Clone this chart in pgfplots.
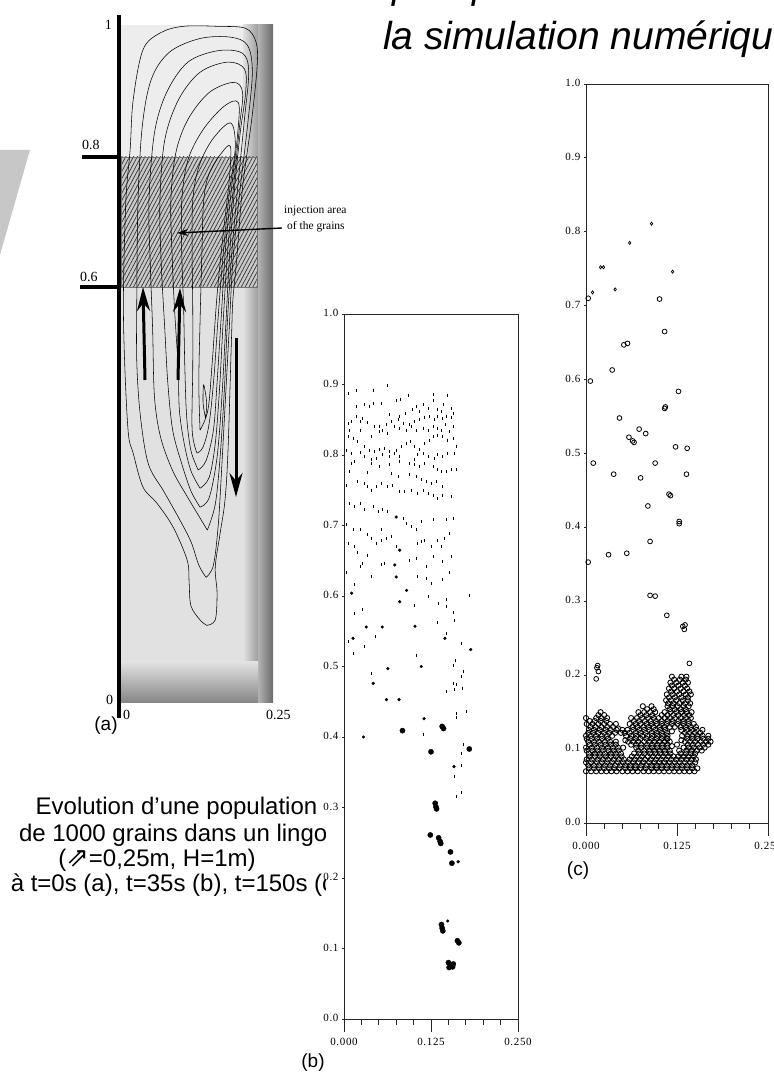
\documentclass[border=0pt]{standalone}
\usepackage{pgfplots}
\pgfplotsset{compat=1.18}
\usepackage{fontspec}
\setmainfont{Liberation Sans}
\newfontfamily\seriffont{Liberation Serif}
\newfontfamily\tickfont[LetterSpace=6]{Liberation Serif}
\newfontfamily\symfont{DejaVu Sans}
\usetikzlibrary{patterns.meta,arrows.meta}
\definecolor{bgA}{HTML}{E1E1E1}
\definecolor{bgT}{HTML}{EDEDED}
\definecolor{hatchbg}{HTML}{C9C9C9}
\pgfplotsset{
  grainax/.style={
    scale only axis, xmin=0, xmax=0.25, ymin=0, ymax=1,
    axis line style={black!85, line width=0.8pt},
    tick align=outside, xtick pos=left, ytick pos=left,
    xtick={0,0.125,0.25}, xticklabels={0.000,0.125,0.250},
    minor xtick={0.025,0.05,0.075,0.1,0.15,0.175,0.2,0.225},
    ytick={0,0.1,0.2,0.3,0.4,0.5,0.6,0.7,0.8,0.9,1.0},
    yticklabels={0.0,0.1,0.2,0.3,0.4,0.5,0.6,0.7,0.8,0.9,1.0},
    major tick length=13pt, minor tick length=6pt,
    tick style={black!85, line width=0.8pt},
    ytick style={draw=none},
    tick label style={font=\tickfont\fontsize{11}{12}\selectfont},
    yticklabel style={xshift=11pt, yshift=1pt},
    xticklabel style={yshift=-3pt},
    clip=false,
  },
  contour/.style={black, line width=0.55pt, smooth, tension=0.55, mark=none},
}
\begin{document}
\begin{tikzpicture}[x=1pt,y=1pt]
\path[use as bounding box] (0,0) rectangle (774,1074);
% slide decoration
\fill[black!22] (0,924) -- (30,924) -- (0,819) -- cycle;
% title fragments
\node[anchor=base west, inner sep=0, font=\fontsize{38}{40}\selectfont\itshape] at (392,1075) {p};
\node[anchor=base west, inner sep=0, font=\fontsize{38}{40}\selectfont\itshape] at (472,1075) {p};
\node[anchor=base west, inner sep=0, font=\fontsize{39}{40}\selectfont\itshape] at (383,1024) {la simulation numérique};
% caption text
\node[anchor=base, inner sep=0, font=\fontsize{24}{26}\selectfont] at (176.5,259) {Evolution d’une population};
\node[anchor=base, inner sep=0, font=\fontsize{24}{26}\selectfont] at (176.5,232) {de 1000 grains dans un lingot};
\node[anchor=base, inner sep=0, font=\fontsize{24}{26}\selectfont] at (157,207) {({\symfont\fontsize{27}{27}\selectfont ⇗}=0,25m, H=1m)};
\node[anchor=base, inner sep=0, font=\fontsize{24}{26}\selectfont] at (176.5,182) {à t=0s (a), t=35s (b), t=150s (c)};
% white background of panel (b)
\fill[white] (326,40) rectangle (545,784);
% ---------------- panel (a) background ----------------
\fill[bgA] (121,371) rectangle (273,1049);
\fill[bgT] (121,917) rectangle (258,1049);
\shade[left color=bgA, right color=black!38] (243,400) rectangle (258,1049);
\shade[left color=black!30, right color=black!58] (258,371) rectangle (273,1049);
\shade[top color=bgA, bottom color=black!48] (121,371) rectangle (258,412);
% hatched injection area
\fill[hatchbg] (121,787) rectangle (257,917);
\fill[pattern={Lines[angle=62,distance=3.4pt,line width=0.7pt]}, pattern color=black!80] (121,787) rectangle (257,917);
\draw[black!55, line width=0.5pt] (121,787) rectangle (257,917);
\begin{axis}[at={(121pt,371pt)}, anchor=south west, width=152pt, height=678pt, scale only axis,
  xmin=0, xmax=0.25, ymin=-0.004, ymax=1.0, axis lines=none, clip=false]
\addplot[contour] coordinates {(0.141,0.111) (0.155,0.119) (0.158,0.159) (0.155,0.197) (0.163,0.247) (0.171,0.296) (0.176,0.37) (0.182,0.544) (0.184,0.593) (0.19,0.65) (0.2,0.76) (0.215,0.86) (0.224,0.94) (0.222,0.975) (0.205,0.995) (0.16,0.998) (0.102,0.998) (0.064,0.988) (0.036,0.963) (0.02,0.889) (0.015,0.815) (0.008,0.74) (0.004,0.6) (0.006,0.5) (0.012,0.396) (0.02,0.366) (0.036,0.316) (0.059,0.292) (0.086,0.256) (0.109,0.207) (0.112,0.175) (0.115,0.14) (0.13,0.119) (0.141,0.111)};
\addplot[contour] coordinates {(0.14,0.182) (0.152,0.2) (0.16,0.26) (0.166,0.35) (0.172,0.45) (0.178,0.55) (0.184,0.65) (0.195,0.75) (0.208,0.85) (0.216,0.93) (0.208,0.97) (0.18,0.982) (0.13,0.98) (0.08,0.96) (0.05,0.92) (0.035,0.85) (0.028,0.74) (0.026,0.6) (0.026,0.5) (0.032,0.42) (0.045,0.35) (0.07,0.31) (0.095,0.27) (0.115,0.235) (0.128,0.2) (0.14,0.182)};
\addplot[contour] coordinates {(0.142,0.252) (0.155,0.29) (0.163,0.36) (0.17,0.46) (0.175,0.56) (0.182,0.66) (0.192,0.76) (0.203,0.86) (0.21,0.93) (0.2,0.958) (0.16,0.962) (0.11,0.945) (0.075,0.9) (0.055,0.84) (0.046,0.74) (0.048,0.65) (0.052,0.55) (0.055,0.45) (0.065,0.39) (0.085,0.34) (0.11,0.3) (0.13,0.27) (0.142,0.252)};
\addplot[contour] coordinates {(0.13,0.286) (0.145,0.3) (0.158,0.36) (0.166,0.45) (0.172,0.55) (0.178,0.65) (0.186,0.75) (0.196,0.84) (0.205,0.9) (0.203,0.935) (0.175,0.945) (0.13,0.93) (0.095,0.89) (0.072,0.83) (0.064,0.74) (0.066,0.65) (0.072,0.55) (0.077,0.47) (0.085,0.4) (0.1,0.35) (0.115,0.31) (0.13,0.286)};
\addplot[contour] coordinates {(0.13,0.314) (0.145,0.33) (0.155,0.38) (0.162,0.46) (0.168,0.56) (0.175,0.66) (0.185,0.76) (0.195,0.85) (0.2,0.9) (0.185,0.915) (0.145,0.9) (0.11,0.86) (0.09,0.81) (0.082,0.74) (0.084,0.66) (0.088,0.58) (0.094,0.493) (0.096,0.43) (0.104,0.38) (0.115,0.34) (0.13,0.314)};
\addplot[contour] coordinates {(0.127,0.341) (0.14,0.355) (0.152,0.4) (0.158,0.47) (0.165,0.57) (0.172,0.67) (0.182,0.76) (0.192,0.84) (0.193,0.885) (0.17,0.88) (0.135,0.845) (0.11,0.8) (0.1,0.74) (0.1,0.66) (0.103,0.58) (0.105,0.493) (0.108,0.42) (0.115,0.37) (0.127,0.341)};
\addplot[contour] coordinates {(0.125,0.366) (0.135,0.375) (0.145,0.41) (0.153,0.48) (0.16,0.57) (0.168,0.66) (0.178,0.75) (0.188,0.82) (0.18,0.855) (0.15,0.83) (0.128,0.79) (0.118,0.74) (0.117,0.66) (0.118,0.58) (0.118,0.493) (0.117,0.4) (0.125,0.366)};
\addplot[contour] coordinates {(0.13,0.40) (0.143,0.43) (0.15,0.5) (0.158,0.6) (0.168,0.69) (0.178,0.77) (0.18,0.82) (0.165,0.81) (0.145,0.78) (0.136,0.74) (0.133,0.66) (0.13,0.56) (0.128,0.47) (0.13,0.40)};
\addplot[contour] coordinates {(0.139,0.418) (0.141,0.44) (0.136,0.467) (0.135,0.44) (0.139,0.418)};
\end{axis}
% panel (a) axis, ticks and labels
\draw[line width=4pt] (119,356) -- (119,1059);
\draw[line width=3.2pt] (82,917) -- (121,917);
\draw[line width=3.2pt] (80,787) -- (121,787);
\node[anchor=base west, inner sep=0, font=\seriffont\fontsize{14}{14}\selectfont] at (82,924) {0.8};
\node[anchor=base west, inner sep=0, font=\seriffont\fontsize{14}{14}\selectfont] at (80,792) {0.6};
\node[anchor=base east, inner sep=0, font=\seriffont\fontsize{14}{14}\selectfont] at (112,1044) {1};
\node[anchor=base west, inner sep=0, font=\seriffont\fontsize{14}{14}\selectfont] at (106,369) {0};
\node[anchor=base west, inner sep=0, font=\seriffont\fontsize{14}{14}\selectfont] at (123,354) {0};
\node[anchor=base west, inner sep=0, font=\seriffont\fontsize{14}{14}\selectfont] at (266,354) {0.25};
\node[anchor=base, inner sep=0, font=\fontsize{19}{20}\selectfont] at (106,343) {(a)};
% arrows
\draw[line width=3pt, -{Stealth[length=24pt,width=13pt]}] (145,694) -- (143,787);
\draw[line width=3pt, -{Stealth[length=24pt,width=13pt]}] (178,694) -- (180,786);
\draw[line width=3pt, -{Stealth[length=24pt,width=13pt]}] (236,736) -- (236,577);
\draw[line width=1.4pt, -{Stealth[length=11pt,width=7pt]}] (282,846) -- (177,841);
\node[anchor=base west, inner sep=0, font=\seriffont\fontsize{11.5}{12}\selectfont] at (284,860) {injection area};
\node[anchor=base west, inner sep=0, font=\seriffont\fontsize{11.5}{12}\selectfont] at (287,844) {of the grains};
% ---------------- panel (b) ----------------
\begin{axis}[grainax, at={(344pt,55pt)}, anchor=south west, width=174pt, height=705pt]
\addplot[only marks, mark=|, mark size=1.5pt, line width=1pt, black] coordinates {
(0.007,0.887) (0.018,0.892) (0.043,0.892) (0.062,0.899) (0.128,0.886) (0.148,0.884) (0.093,0.884) (0.081,0.879) (0.075,0.877) (0.030,0.871)
(0.037,0.869) (0.043,0.873) (0.054,0.873) (0.018,0.869) (0.128,0.878) (0.143,0.871) (0.154,0.866) (0.104,0.869) (0.114,0.871) (0.121,0.866)
(0.099,0.864) (0.109,0.861) (0.135,0.864) (0.140,0.861) (0.066,0.857) (0.080,0.854) (0.089,0.859) (0.018,0.854) (0.027,0.852) (0.006,0.845)
(0.011,0.847) (0.023,0.847) (0.034,0.846) (0.044,0.840) (0.051,0.841) (0.061,0.843) (0.068,0.847) (0.078,0.850) (0.085,0.845) (0.094,0.843)
(0.102,0.847) (0.109,0.851) (0.116,0.853) (0.123,0.854) (0.130,0.850) (0.135,0.854) (0.142,0.852) (0.147,0.855) (0.154,0.853) (0.157,0.859)
(0.008,0.835) (0.023,0.835) (0.039,0.826) (0.051,0.833) (0.056,0.835) (0.063,0.831) (0.073,0.840) (0.080,0.838) (0.090,0.835) (0.097,0.840)
(0.104,0.835) (0.114,0.838) (0.121,0.835) (0.128,0.840) (0.134,0.838) (0.140,0.835) (0.146,0.843) (0.152,0.833) (0.158,0.840) (0.006,0.826)
(0.013,0.824) (0.020,0.819) (0.030,0.812) (0.037,0.807) (0.044,0.805) (0.051,0.808) (0.058,0.809) (0.066,0.805) (0.075,0.807) (0.082,0.812)
(0.090,0.817) (0.095,0.819) (0.102,0.812) (0.109,0.808) (0.116,0.816) (0.123,0.821) (0.128,0.826) (0.135,0.828) (0.142,0.826) (0.149,0.821)
(0.157,0.824) (0.161,0.812) (0.003,0.807) (0.011,0.802) (0.023,0.803) (0.030,0.798) (0.039,0.793) (0.046,0.795) (0.056,0.800) (0.066,0.798)
(0.073,0.802) (0.080,0.798) (0.102,0.793) (0.106,0.800) (0.114,0.802) (0.121,0.798) (0.130,0.795) (0.135,0.800) (0.142,0.798) (0.149,0.802)
(0.159,0.802) (0.011,0.788) (0.015,0.791) (0.039,0.788) (0.051,0.783) (0.066,0.786) (0.080,0.791) (0.094,0.788) (0.102,0.786) (0.109,0.783)
(0.116,0.788) (0.128,0.783) (0.135,0.779) (0.140,0.776) (0.147,0.776) (0.154,0.779) (0.161,0.779) (0.008,0.776) (0.034,0.775) (0.068,0.774)
(0.078,0.769) (0.094,0.772) (0.104,0.769) (0.111,0.765) (0.118,0.762) (0.125,0.760) (0.133,0.762) (0.142,0.755) (0.003,0.757) (0.020,0.762)
(0.030,0.760) (0.034,0.755) (0.039,0.750) (0.046,0.755) (0.054,0.760) (0.063,0.755) (0.070,0.757) (0.080,0.748) (0.087,0.748) (0.097,0.750)
(0.106,0.746) (0.114,0.750) (0.121,0.746) (0.128,0.743) (0.135,0.739) (0.142,0.743) (0.154,0.741) (0.008,0.731) (0.015,0.727) (0.023,0.731)
(0.030,0.722) (0.042,0.727) (0.049,0.720) (0.056,0.722) (0.063,0.720) (0.085,0.710) (0.090,0.703) (0.097,0.698) (0.104,0.694) (0.111,0.705)
(0.128,0.708) (0.147,0.708) (0.157,0.710) (0.003,0.701) (0.013,0.694) (0.023,0.694) (0.034,0.687) (0.039,0.682) (0.046,0.675) (0.054,0.679)
(0.054,0.694) (0.061,0.682) (0.068,0.684) (0.075,0.670) (0.106,0.675) (0.111,0.677) (0.116,0.679) (0.125,0.670) (0.135,0.679) (0.140,0.670)
(0.145,0.682) (0.152,0.689) (0.006,0.675) (0.015,0.670) (0.020,0.661) (0.034,0.658) (0.058,0.646) (0.094,0.651) (0.104,0.653) (0.118,0.642)
(0.128,0.656) (0.142,0.649) (0.154,0.656) (0.003,0.634) (0.023,0.642) (0.027,0.646) (0.039,0.627) (0.054,0.644) (0.106,0.627) (0.118,0.625)
(0.125,0.618) (0.142,0.623) (0.152,0.634) (0.015,0.616) (0.102,0.587) (0.121,0.599) (0.136,0.590) (0.147,0.595) (0.157,0.576) (0.181,0.601)
(0.015,0.575) (0.027,0.581) (0.030,0.528) (0.045,0.542) (0.147,0.547) (0.169,0.533) (0.135,0.562) (0.147,0.585) (0.159,0.565) (0.006,0.535)
(0.013,0.519) (0.104,0.515) (0.160,0.509) (0.158,0.502) (0.171,0.493) (0.169,0.486) (0.161,0.474) (0.039,0.490) (0.147,0.464) (0.157,0.476)
(0.159,0.467) (0.170,0.469) (0.161,0.434) (0.161,0.427) (0.176,0.436) (0.114,0.404) (0.159,0.344) (0.169,0.377) (0.169,0.359) (0.172,0.389)
(0.162,0.316) (0.169,0.321)};
\addplot[only marks, mark=*, mark size=1.4pt, black] coordinates {
(0.075,0.712) (0.080,0.665) (0.073,0.644) (0.075,0.627) (0.090,0.608) (0.080,0.592) (0.055,0.556) (0.032,0.556) (0.013,0.540) (0.102,0.557)
(0.145,0.540) (0.011,0.604) (0.182,0.524) (0.042,0.476) (0.063,0.497) (0.061,0.453) (0.079,0.453) (0.115,0.426) (0.028,0.400) (0.158,0.358)
(0.164,0.223) (0.149,0.139) (0.111,0.500)};
\addplot[only marks, mark=*, mark size=2.6pt, black] coordinates {
(0.141,0.415) (0.143,0.412) (0.084,0.409) (0.125,0.379) (0.180,0.383) (0.132,0.301) (0.131,0.306) (0.133,0.298) (0.124,0.261) (0.138,0.252)
(0.136,0.257) (0.139,0.249) (0.153,0.237) (0.155,0.221) (0.141,0.129) (0.140,0.134) (0.142,0.125) (0.165,0.108) (0.163,0.111) (0.153,0.077)
(0.150,0.080) (0.156,0.074) (0.151,0.073) (0.157,0.078)};
\end{axis}
% axis ticks of panel (b), in page units
\foreach \x in {344,431,518} \draw[black!85, line width=0.9pt] (\x,55) -- (\x,42);
\foreach \x in {361.4,378.8,396.2,413.6,448.4,465.8,483.2,500.6} \draw[black!85, line width=0.9pt] (\x,55) -- (\x,49);
\foreach \y in {55,125.5,196,266.5,337,407.5,478,548.5,619,689.5,760} \draw[black!85, line width=0.9pt] (344,\y) -- (341.5,\y);
\node[anchor=base, inner sep=0, font=\fontsize{19}{20}\selectfont] at (313,6) {(b)};
% ---------------- panel (c) ----------------
\begin{axis}[grainax, at={(586pt,251pt)}, anchor=south west, width=182pt, height=739pt]
\addplot[only marks, mark=diamond, mark size=1.6pt, line width=0.7pt, black] coordinates {
(0.090,0.811) (0.060,0.785) (0.020,0.752) (0.024,0.752) (0.119,0.746) (0.009,0.718) (0.040,0.722)};
\addplot[only marks, mark=o, mark size=2.4pt, line width=0.8pt, black] coordinates {
(0.003,0.710) (0.101,0.709) (0.108,0.665) (0.052,0.647) (0.057,0.649) (0.036,0.613) (0.006,0.598) (0.127,0.584) (0.108,0.561) (0.109,0.563)
(0.046,0.548) (0.073,0.533) (0.082,0.527) (0.059,0.522) (0.066,0.515) (0.064,0.517) (0.123,0.509) (0.139,0.507) (0.010,0.487) (0.095,0.487)
(0.038,0.472) (0.075,0.467) (0.138,0.472) (0.114,0.445) (0.116,0.443) (0.085,0.429) (0.128,0.405) (0.128,0.408) (0.088,0.381) (0.031,0.363)
(0.056,0.365) (0.003,0.353) (0.088,0.308) (0.095,0.307) (0.111,0.281) (0.133,0.266) (0.135,0.262) (0.136,0.268) (0.142,0.216) (0.015,0.210)
(0.017,0.205) (0.014,0.195) (0.016,0.213)};
\addplot[only marks, mark=o, mark size=2.6pt, line width=0.85pt, black] coordinates {
(0.000,0.070) (0.007,0.070) (0.014,0.070) (0.021,0.070) (0.028,0.070) (0.035,0.070) (0.042,0.070) (0.050,0.070) (0.057,0.070) (0.064,0.070)
(0.071,0.070) (0.079,0.070) (0.086,0.070) (0.093,0.070) (0.100,0.070) (0.107,0.070) (0.114,0.070) (0.121,0.070) (0.128,0.070) (0.135,0.070)
(0.142,0.070) (0.149,0.070)
(0.003,0.078) (0.011,0.078) (0.018,0.078) (0.026,0.078) (0.033,0.078) (0.040,0.078) (0.047,0.078) (0.054,0.078) (0.061,0.078) (0.068,0.078)
(0.076,0.078) (0.083,0.078) (0.090,0.078) (0.097,0.078) (0.104,0.078) (0.111,0.078) (0.118,0.078) (0.125,0.078) (0.132,0.078) (0.139,0.078)
(0.146,0.078)
(0.001,0.086) (0.008,0.086) (0.016,0.086) (0.023,0.086) (0.030,0.086) (0.038,0.086) (0.045,0.086) (0.052,0.086) (0.060,0.086) (0.067,0.086)
(0.074,0.086) (0.081,0.086) (0.089,0.086) (0.096,0.086) (0.103,0.086) (0.110,0.086) (0.117,0.086) (0.124,0.086) (0.131,0.086) (0.138,0.086)
(0.145,0.086) (0.151,0.086)
(0.004,0.094) (0.012,0.094) (0.019,0.094) (0.026,0.094) (0.034,0.094) (0.041,0.094) (0.048,0.094) (0.066,0.094) (0.073,0.094) (0.080,0.094)
(0.088,0.094) (0.095,0.094) (0.102,0.094) (0.109,0.094) (0.116,0.094) (0.130,0.094) (0.137,0.094) (0.144,0.094) (0.150,0.094)
(0.000,0.102) (0.008,0.102) (0.015,0.102) (0.022,0.102) (0.030,0.102) (0.037,0.102) (0.044,0.102) (0.051,0.102) (0.069,0.102) (0.076,0.102)
(0.084,0.102) (0.091,0.102) (0.098,0.102) (0.105,0.102) (0.112,0.102) (0.134,0.102) (0.141,0.102) (0.148,0.102) (0.156,0.102) (0.163,0.102)
(0.003,0.110) (0.011,0.110) (0.018,0.110) (0.026,0.110) (0.033,0.110) (0.058,0.110) (0.065,0.110) (0.072,0.110) (0.080,0.110) (0.087,0.110)
(0.094,0.110) (0.101,0.110) (0.108,0.110) (0.115,0.110) (0.136,0.110) (0.143,0.110) (0.150,0.110) (0.158,0.110) (0.165,0.110) (0.171,0.110)
(0.000,0.118) (0.007,0.118) (0.014,0.118) (0.022,0.118) (0.029,0.118) (0.055,0.118) (0.062,0.118) (0.069,0.118) (0.077,0.118) (0.084,0.118)
(0.091,0.118) (0.098,0.118) (0.105,0.118) (0.112,0.118) (0.132,0.118) (0.139,0.118) (0.146,0.118) (0.153,0.118) (0.160,0.118) (0.168,0.118)
(0.004,0.126) (0.011,0.126) (0.019,0.126) (0.027,0.126) (0.034,0.126) (0.042,0.126) (0.050,0.126) (0.057,0.126) (0.065,0.126) (0.073,0.126)
(0.080,0.126) (0.087,0.126) (0.095,0.126) (0.102,0.126) (0.109,0.126) (0.131,0.126) (0.138,0.126) (0.145,0.126) (0.152,0.126) (0.160,0.126)
(0.001,0.134) (0.009,0.134) (0.017,0.134) (0.025,0.134) (0.033,0.134) (0.041,0.134) (0.060,0.134) (0.068,0.134) (0.075,0.134) (0.083,0.134)
(0.090,0.134) (0.097,0.134) (0.104,0.134) (0.111,0.134) (0.118,0.134) (0.126,0.134) (0.134,0.134) (0.141,0.134) (0.148,0.134)
(0.000,0.142) (0.014,0.142) (0.021,0.142) (0.029,0.142) (0.062,0.142) (0.070,0.142) (0.077,0.142) (0.085,0.142) (0.093,0.142) (0.100,0.142)
(0.108,0.142) (0.115,0.142) (0.122,0.142) (0.130,0.142) (0.137,0.142) (0.144,0.142)
(0.020,0.150) (0.072,0.150) (0.080,0.150) (0.088,0.150) (0.095,0.150) (0.108,0.150) (0.116,0.150) (0.124,0.150) (0.131,0.150) (0.138,0.150)
(0.145,0.150)
(0.078,0.158) (0.090,0.158) (0.112,0.158) (0.119,0.158) (0.126,0.158) (0.134,0.158) (0.141,0.158)
(0.110,0.166) (0.117,0.166) (0.124,0.166) (0.133,0.166) (0.140,0.166)
(0.111,0.174) (0.119,0.174) (0.128,0.174) (0.137,0.174) (0.144,0.174)
(0.114,0.182) (0.121,0.182) (0.130,0.182) (0.139,0.182)
(0.116,0.190) (0.124,0.190) (0.133,0.190) (0.140,0.190)
(0.118,0.198) (0.131,0.198) (0.138,0.198)
(0.004,0.074) (0.011,0.074) (0.018,0.074) (0.025,0.074) (0.032,0.074) (0.039,0.074) (0.046,0.074) (0.054,0.074) (0.061,0.074) (0.068,0.074)
(0.075,0.074) (0.082,0.074) (0.090,0.074) (0.097,0.074) (0.104,0.074) (0.111,0.074) (0.118,0.074) (0.125,0.074) (0.132,0.074) (0.139,0.074)
(0.146,0.074) (0.153,0.074)
(0.000,0.082) (0.007,0.082) (0.015,0.082) (0.022,0.082) (0.029,0.082) (0.036,0.082) (0.044,0.082) (0.051,0.082) (0.058,0.082) (0.065,0.082)
(0.072,0.082) (0.079,0.082) (0.087,0.082) (0.094,0.082) (0.101,0.082) (0.108,0.082) (0.115,0.082) (0.122,0.082) (0.129,0.082) (0.136,0.082)
(0.143,0.082) (0.150,0.082)
(0.005,0.090) (0.012,0.090) (0.019,0.090) (0.027,0.090) (0.034,0.090) (0.041,0.090) (0.049,0.090) (0.063,0.090) (0.070,0.090) (0.077,0.090)
(0.085,0.090) (0.092,0.090) (0.099,0.090) (0.106,0.090) (0.113,0.090) (0.120,0.090) (0.127,0.090) (0.134,0.090) (0.141,0.090) (0.148,0.090)
(0.001,0.098) (0.009,0.098) (0.016,0.098) (0.023,0.098) (0.031,0.098) (0.038,0.098) (0.045,0.098) (0.072,0.098) (0.080,0.098) (0.087,0.098)
(0.094,0.098) (0.101,0.098) (0.108,0.098) (0.115,0.098) (0.138,0.098) (0.145,0.098) (0.152,0.098) (0.159,0.098)
(0.005,0.106) (0.012,0.106) (0.020,0.106) (0.027,0.106) (0.034,0.106) (0.041,0.106) (0.062,0.106) (0.069,0.106) (0.076,0.106) (0.084,0.106)
(0.091,0.106) (0.098,0.106) (0.105,0.106) (0.112,0.106) (0.140,0.106) (0.147,0.106) (0.154,0.106) (0.161,0.106) (0.168,0.106)
(0.001,0.114) (0.008,0.114) (0.015,0.114) (0.022,0.114) (0.030,0.114) (0.061,0.114) (0.068,0.114) (0.075,0.114) (0.083,0.114) (0.090,0.114)
(0.097,0.114) (0.104,0.114) (0.111,0.114) (0.139,0.114) (0.146,0.114) (0.153,0.114) (0.161,0.114) (0.168,0.114)
(0.003,0.122) (0.010,0.122) (0.017,0.122) (0.025,0.122) (0.032,0.122) (0.040,0.122) (0.053,0.122) (0.060,0.122) (0.068,0.122) (0.075,0.122)
(0.082,0.122) (0.090,0.122) (0.097,0.122) (0.104,0.122) (0.111,0.122) (0.136,0.122) (0.143,0.122) (0.150,0.122) (0.157,0.122)
(0.006,0.130) (0.013,0.130) (0.021,0.130) (0.029,0.130) (0.037,0.130) (0.064,0.130) (0.071,0.130) (0.079,0.130) (0.086,0.130) (0.093,0.130)
(0.101,0.130) (0.108,0.130) (0.115,0.130) (0.122,0.130) (0.130,0.130) (0.137,0.130) (0.144,0.130) (0.151,0.130)
(0.005,0.138) (0.012,0.138) (0.020,0.138) (0.028,0.138) (0.066,0.138) (0.073,0.138) (0.081,0.138) (0.089,0.138) (0.096,0.138) (0.104,0.138)
(0.112,0.138) (0.119,0.138) (0.127,0.138) (0.134,0.138) (0.141,0.138)
(0.017,0.146) (0.025,0.146) (0.075,0.146) (0.083,0.146) (0.091,0.146) (0.104,0.146) (0.112,0.146) (0.120,0.146) (0.127,0.146) (0.135,0.146)
(0.142,0.146)
(0.084,0.154) (0.093,0.154) (0.115,0.154) (0.122,0.154) (0.130,0.154) (0.137,0.154)
(0.113,0.162) (0.120,0.162) (0.128,0.162) (0.136,0.162) (0.143,0.162)
(0.114,0.170) (0.122,0.170) (0.131,0.170) (0.140,0.170)
(0.117,0.178) (0.125,0.178) (0.134,0.178) (0.142,0.178)
(0.118,0.186) (0.127,0.186) (0.136,0.186)
(0.121,0.194) (0.129,0.194) (0.137,0.194)
(0.041,0.110) (0.048,0.122) (0.036,0.118) (0.054,0.112) (0.044,0.128)
(0.118,0.104) (0.128,0.098) (0.131,0.112) (0.118,0.124) (0.112,0.114) (0.125,0.106)};
\end{axis}
% axis ticks of panel (c), in page units
\foreach \x in {586,677,768} \draw[black!85, line width=0.9pt] (\x,251) -- (\x,238);
\foreach \x in {604.2,622.4,640.6,658.8,695.2,713.4,731.6,749.8} \draw[black!85, line width=0.9pt] (\x,251) -- (\x,245);
\foreach \y in {251,324.9,398.8,472.7,546.6,620.5,694.4,768.3,842.2,916.1,990} \draw[black!85, line width=0.9pt] (586,\y) -- (583.5,\y);
\node[anchor=base, inner sep=0, font=\fontsize{19}{20}\selectfont] at (578,198) {(c)};
\end{tikzpicture}
\end{document}
